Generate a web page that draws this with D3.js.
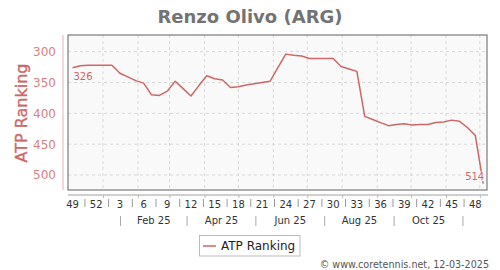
<!DOCTYPE html>
<html>
<head>
<meta charset="utf-8">
<script src="https://cdn.jsdelivr.net/npm/d3@7"></script>
<style>
  body { margin: 0; background: #fff; }
  text { font-family: "DejaVu Sans", sans-serif; }
</style>
</head>
<body>
<div id="chart"></div>
<script>
// weekly ATP ranking, week 49 2024 -> week 49 2025
var title = "Renzo Olivo (ARG)";
var firstWeek = "2024-12-02";
var ranks = [326, 323, 322, 322, 322, 322, 335, 341, 347, 351,
             370, 371, 364, 348, 360, 372, 355, 339, 344, 346,
             358, 357, 354, 352, 350, 348, 326, 304, 306, 307,
             311, 311, 311, 311, 324, 328, 332, 405, 410, 415,
             420, 418, 417, 419, 418, 418, 415, 414, 411, 413,
             423, 436, 514];
var yTicks = [300, 350, 400, 450, 500];
var monthLabels = ["Feb 25", "Apr 25", "Jun 25", "Aug 25", "Oct 25"];
var seriesName = "ATP Ranking";
var credit = "\u00a9 www.coretennis.net, 12-03-2025";

var width = 500, height = 270;
// note: "top" is taken by window.top, so plotX names
var plotL = 68, plotR = 487, plotT = 35, plotB = 190;
var red = "#cd6767";

var svg = d3.select("div#chart")
    .append("svg")
    .attr("width", width)
    .attr("height", height);

var parse = d3.timeParse("%Y-%m-%d");
var start = parse(firstWeek);
// one point per week, drawn at mid week
var weeks = ranks.map((r, i) => d3.timeMonday.offset(start, i));
var mid = (d) => d3.timeDay.offset(d, 3);

var x = d3.scaleTime()
    .domain([parse("2024-12-01"), new Date(2025, 11, 7, 8)])
    .range([plotL, plotR]);
var y = d3.scaleLinear()
    .domain([273, 524.3])
    .range([plotT, plotB]);

// title
svg.append("text")
    .attr("x", 250).attr("y", 23)
    .attr("text-anchor", "middle")
    .attr("font-size", 18).attr("font-weight", "bold")
    .attr("fill", "#737373")
    .text(title);

// plot background
svg.append("rect")
    .attr("x", plotL).attr("y", plotT)
    .attr("width", plotR - plotL).attr("height", plotB - plotT)
    .attr("fill", "#f9f9f9");

// grid
var months = d3.timeMonth.range(parse("2025-01-01"), parse("2025-12-02"));
svg.append("g").selectAll("line")
    .data(months)
    .enter().append("line")
    .attr("x1", (d) => x(d)).attr("x2", (d) => x(d))
    .attr("y1", plotT).attr("y2", plotB)
    .attr("stroke", "#d9d9d9").attr("stroke-dasharray", "3,3");
svg.append("g").selectAll("line")
    .data(yTicks)
    .enter().append("line")
    .attr("x1", plotL).attr("x2", plotR)
    .attr("y1", (d) => y(d)).attr("y2", (d) => y(d))
    .attr("stroke", "#d9d9d9").attr("stroke-dasharray", "3,3");

// frame
svg.append("rect")
    .attr("x", plotL).attr("y", plotT)
    .attr("width", plotR - plotL).attr("height", plotB - plotT)
    .attr("fill", "none").attr("stroke", "#7a7a7a").attr("stroke-width", 1.2);

// y axis
var yAxis = svg.append("g")
    .attr("transform", "translate(63,0)")
    .call(d3.axisLeft(y).tickValues(yTicks).tickSize(0).tickPadding(7));
yAxis.select(".domain").attr("stroke", "#e6b3b3").attr("d", "M0," + plotT + "V" + plotB);
yAxis.selectAll("text")
    .attr("font-size", 12).attr("fill", "#d48282")
    .attr("font-family", "DejaVu Sans");

svg.append("text")
    .attr("transform", "translate(27,113) rotate(-90)")
    .attr("text-anchor", "middle")
    .attr("font-size", 16).attr("fill", red)
    .attr("stroke", red).attr("stroke-width", 0.35)
    .text(seriesName);

// x axis line + month ticks
var xAxis = svg.append("g")
    .attr("transform", "translate(0,195)")
    .call(d3.axisBottom(x).tickValues(months).tickSize(3).tickFormat(""));
xAxis.select(".domain").attr("stroke", "#a0a0a0").attr("d", "M" + plotL + ",0H" + (plotR + 1));
xAxis.selectAll(".tick line").attr("stroke", "#bbb");

// week labels every third week
var wk = d3.timeFormat("%V");
var labelWeeks = weeks.filter((d, i) => i % 3 == 0 && i < weeks.length - 1);
svg.append("g").selectAll("text")
    .data(labelWeeks)
    .enter().append("text")
    .attr("x", (d) => x(mid(d)))
    .attr("y", 208)
    .attr("text-anchor", "middle")
    .attr("font-size", 10).attr("fill", "#333")
    .text((d) => +wk(d));
svg.append("g").selectAll("line")
    .data(labelWeeks.slice(1))
    .enter().append("line")
    .attr("x1", (d) => x(d3.timeDay.offset(d, -7)))
    .attr("x2", (d) => x(d3.timeDay.offset(d, -7)))
    .attr("y1", 199).attr("y2", 207)
    .attr("stroke", "#999");

// month labels, two months per slot
var seps = [0, 2, 4, 6, 8, 10].map((m) => (x(new Date(2025, m, 1)) + x(new Date(2025, m + 1, 1))) / 2);
svg.append("g").selectAll("line")
    .data(seps)
    .enter().append("line")
    .attr("x1", (d) => d).attr("x2", (d) => d)
    .attr("y1", 216).attr("y2", 226)
    .attr("stroke", "#aaa");
svg.append("g").selectAll("text")
    .data(monthLabels)
    .enter().append("text")
    .attr("x", (d, i) => (seps[i] + seps[i + 1]) / 2)
    .attr("y", 224)
    .attr("text-anchor", "middle")
    .attr("font-size", 10).attr("fill", "#333")
    .text((d) => d);

// ranking line
var line = d3.line()
    .x((d, i) => x(mid(weeks[i])))
    .y((d) => y(d));
svg.append("path")
    .datum(ranks)
    .attr("d", line)
    .attr("fill", "none")
    .attr("stroke", red)
    .attr("stroke-width", 1.5)
    .attr("stroke-linejoin", "round");

// first / last value labels
var n = ranks.length - 1;
svg.append("text")
    .attr("x", x(mid(weeks[0])) + 1).attr("y", y(ranks[0]) + 12.5)
    .attr("font-size", 10).attr("fill", red)
    .text(ranks[0]);
var lastX = x(mid(weeks[n])), lastY = y(ranks[n]);
svg.append("rect")
    .attr("x", lastX - 18).attr("y", lastY - 12)
    .attr("width", 19.5).attr("height", 9.5)
    .attr("fill", "#f9f9f9");
svg.append("text")
    .attr("x", lastX + 1).attr("y", lastY - 4)
    .attr("text-anchor", "end")
    .attr("font-size", 10).attr("fill", red)
    .text(ranks[n]);

// legend
svg.append("rect")
    .attr("x", 199.5).attr("y", 235.5)
    .attr("width", 100.5).attr("height", 20.5)
    .attr("fill", "#fff").attr("stroke", "#bbb");
svg.append("line")
    .attr("x1", 203).attr("x2", 216)
    .attr("y1", 246).attr("y2", 246)
    .attr("stroke", red).attr("stroke-width", 1.5);
svg.append("text")
    .attr("x", 221).attr("y", 250)
    .attr("font-size", 12).attr("fill", "#222")
    .text(seriesName);

svg.append("text")
    .attr("x", 489).attr("y", 268)
    .attr("text-anchor", "end")
    .attr("font-size", 9.6).attr("fill", "#555")
    .text(credit);
</script>
</body>
</html>
